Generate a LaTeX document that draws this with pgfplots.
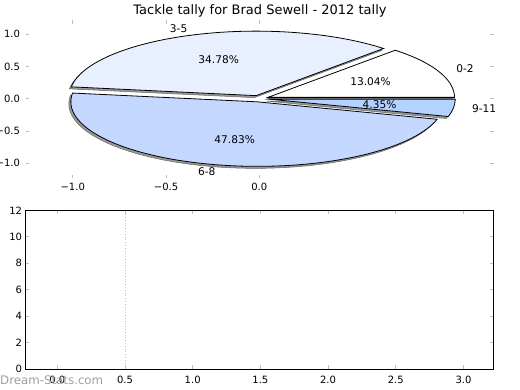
\documentclass[border=0pt]{standalone}
\usepackage{pgfplots}
\pgfplotsset{compat=1.18}
\usepackage{fontspec}
\setmainfont{DejaVu Sans}
\definecolor{cA}{RGB}{255,255,255}
\definecolor{cB}{RGB}{232,240,255}
\definecolor{cC}{RGB}{196,216,255}
\definecolor{cD}{RGB}{180,210,255}
\begin{document}
\begin{tikzpicture}[x=1pt,y=1pt]
\useasboundingbox (0,0) rectangle (520,390);
\node[anchor=base, font=\fontsize{13}{15}\selectfont, inner sep=0] at (260,375) {Tackle tally for Brad Sewell - 2012 tally};
% ---------------- pie axis (counts 3, 8, 11, 1 of 23: 13.04%, 34.78%, 47.83%, 4.35%)
\begin{axis}[
  at={(25.7pt,211.7pt)}, anchor=south west, scale only axis,
  width=468pt, height=157.8pt,
  xmin=-1.252, xmax=1.256, ymin=-1.234, ymax=1.212,
  axis line style={draw=none},
  xtick={-1,-0.5,0}, xticklabels={−1.0,−0.5,0.0},
  ytick={-1,-0.5,0,0.5,1}, yticklabels={−1.0,−0.5,0.0,0.5,1.0},
  tick align=inside, major tick length=3.5pt,
  tick style={gray!50, line width=0.8pt},
  ticklabel style={font=\fontsize{10}{12}\selectfont, inner sep=0pt},
  xticklabel style={yshift=-4.4pt}, yticklabel style={xshift=-5.5pt},
  clip=false,
]
% shadows
\addplot[draw=black!60, line width=0.5pt, fill=black!40, domain=0:46.957, samples=60] ({0.0352+cos(x)},{-0.0111+sin(x)}) -- (axis cs:0.0352,-0.0111) -- cycle;
\addplot[draw=black!60, line width=0.5pt, fill=black!40, domain=46.957:172.174, samples=80] ({-0.0274+cos(x)},{0.0161+sin(x)}) -- (axis cs:-0.0274,0.0161) -- cycle;
\addplot[draw=black!60, line width=0.5pt, fill=black!40, domain=172.174:344.348, samples=100] ({-0.0209+cos(x)},{-0.0800+sin(x)}) -- (axis cs:-0.0209,-0.0800) -- cycle;
\addplot[draw=black!60, line width=0.5pt, fill=black!40, domain=344.348:360, samples=20] ({0.0388+cos(x)},{-0.0378+sin(x)}) -- (axis cs:0.0388,-0.0378) -- cycle;
% wedges
\addplot[draw=black, line width=0.8pt, fill=cA, domain=0:46.957, samples=60] ({0.04586+cos(x)},{0.01992+sin(x)}) -- (axis cs:0.04586,0.01992) -- cycle;
\addplot[draw=black, line width=0.8pt, fill=cB, domain=46.957:172.174, samples=80] ({-0.01674+cos(x)},{0.04711+sin(x)}) -- (axis cs:-0.01674,0.04711) -- cycle;
\addplot[draw=black, line width=0.8pt, fill=cC, domain=172.174:344.348, samples=100] ({-0.01017+cos(x)},{-0.04895+sin(x)}) -- (axis cs:-0.01017,-0.04895) -- cycle;
\addplot[draw=black, line width=0.8pt, fill=cD, domain=344.348:360, samples=20] ({0.04953+cos(x)},{-0.00681+sin(x)}) -- (axis cs:0.04953,-0.00681) -- cycle;
% labels
\begin{scope}[every node/.style={font=\fontsize{10.6}{12}\selectfont, inner sep=0pt}]
\node[anchor=west] at (axis cs:1.055,0.458) {0-2};
\node[anchor=east] at (axis cs:-0.385,1.083) {3-5};
\node[anchor=east] at (axis cs:-0.234,-1.126) {6-8};
\node[anchor=west] at (axis cs:1.139,-0.157) {9-11};
\node at (axis cs:0.596,0.259) {13.04\%};
\node at (axis cs:-0.218,0.612) {34.78\%};
\node at (axis cs:-0.132,-0.636) {47.83\%};
\node at (axis cs:0.644,-0.089) {4.35\%};
\end{scope}
\end{axis}
% ---------------- empty bottom axis
\begin{axis}[
  at={(25.7pt,21pt)}, anchor=south west, scale only axis,
  width=468pt, height=158.7pt,
  xmin=-0.233, xmax=3.223, ymin=0, ymax=12,
  xtick={0,0.5,1,1.5,2,2.5,3}, xticklabels={0.0,0.5,1.0,1.5,2.0,2.5,3.0},
  ytick={0,2,4,6,8,10,12}, yticklabels={0,2,4,6,8,10,12},
  axis line style={line width=0.8pt},
  tick align=inside, major tick length=3.5pt,
  tick style={gray!50, line width=0.8pt},
  ticklabel style={font=\fontsize{10}{12}\selectfont, inner sep=0pt},
  xticklabel style={yshift=-7pt}, yticklabel style={xshift=-3.5pt},
]
\addplot[gray!50, dotted, line width=0.8pt] coordinates {(0.5,0) (0.5,12)};
\end{axis}
\node[anchor=base west, text=gray!75, font=\fontsize{11.8}{14}\selectfont, inner sep=0] at (0,5.5) {Dream-Stats.com};
\end{tikzpicture}
\end{document}
